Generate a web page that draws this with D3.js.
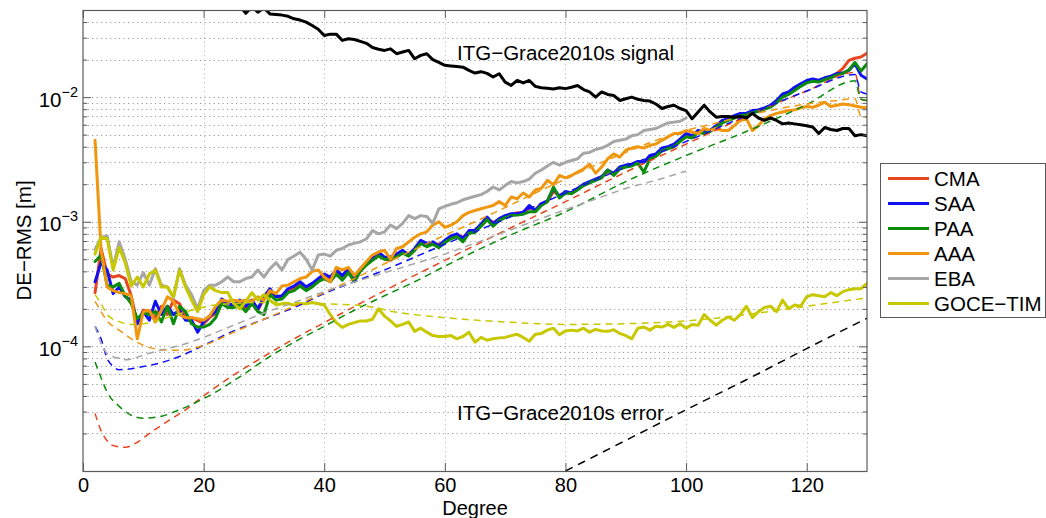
<!DOCTYPE html>
<html>
<head>
<meta charset="utf-8">
<script src="https://cdn.jsdelivr.net/npm/d3@7"></script>
<style>
  body { margin: 0; background: #fff; }
  svg text { font-family: "Liberation Sans", Arial, Helvetica, sans-serif; fill: #000; }
</style>
</head>
<body>
<svg id="chart" width="1046" height="518"></svg>
<script>
// Spherical harmonic degrees of the per-degree curves
const degrees = d3.range(2, 131);
const ebaDegrees = d3.range(2, 101);
const signalDegrees = d3.range(25, 131);

// Degree-error RMS [m] per degree (solid curves)
const cma = [
  2.7e-4, 6.1e-4, 3.8e-4, 3.6e-4, 3.7e-4, 3.5e-4, 2.55e-4, 1.52e-4, 1.95e-4,
  1.9e-4, 1.7e-4, 2.1e-4, 1.8e-4, 2.35e-4, 2.2e-4, 1.7e-4, 1.7e-4, 1.62e-4, 1.52e-4,
  1.7e-4, 1.85e-4, 2.3e-4, 2.2e-4, 2.1e-4, 2.2e-4, 2.0e-4, 2.3e-4, 1.95e-4, 2.4e-4,
  2.75e-4, 2.55e-4, 2.45e-4, 2.8e-4, 2.95e-4, 3.2e-4, 2.9e-4, 3.1e-4, 3.4e-4, 3.7e-4,
  3.5e-4, 4.0e-4, 3.6e-4, 4.1e-4, 3.7e-4, 4.1e-4, 4.6e-4, 5.0e-4, 5.6e-4, 5.0e-4,
  4.9e-4, 5.4e-4, 5.8e-4, 5.5e-4, 6.0e-4, 6.9e-4, 6.6e-4, 6.7e-4, 6.6e-4, 7.0e-4,
  7.5e-4, 7.9e-4, 7.5e-4, 8.3e-4, 8.6e-4, 9.3e-4, 1.05e-3, 9.9e-4, 1.04e-3, 1.1e-3,
  1.14e-3, 1.18e-3, 1.17e-3, 1.3e-3, 1.25e-3, 1.38e-3, 1.45e-3, 1.75e-3, 1.62e-3, 1.72e-3,
  1.72e-3, 1.82e-3, 1.98e-3, 2.05e-3, 2.2e-3, 2.3e-3, 2.5e-3, 2.45e-3, 2.7e-3, 2.8e-3,
  2.9e-3, 3.0e-3, 3.0e-3, 3.3e-3, 3.45e-3, 3.8e-3, 3.9e-3, 4.1e-3, 4.5e-3, 5.0e-3,
  4.9e-3, 5.3e-3, 5.3e-3, 5.4e-3, 5.8e-3, 6.3e-3, 6.6e-3, 7.0e-3, 7.2e-3, 7.4e-3,
  7.6e-3, 7.9e-3, 8.1e-3, 8.5e-3, 9.2e-3, 1.02e-2, 1.08e-2, 1.16e-2, 1.25e-2, 1.32e-2,
  1.38e-2, 1.36e-2, 1.42e-2, 1.46e-2, 1.55e-2, 1.7e-2, 1.97e-2, 2.05e-2, 2.1e-2, 2.25e-2
];
const saa = [
  3.3e-4, 4.7e-4, 4.1e-4, 2.65e-4, 3.0e-4, 2.5e-4, 2.35e-4, 1.52e-4, 1.9e-4,
  1.62e-4, 2.3e-4, 1.8e-4, 2.1e-4, 1.8e-4, 1.95e-4, 1.62e-4, 1.62e-4, 1.3e-4, 1.57e-4,
  1.75e-4, 1.9e-4, 2.4e-4, 2.2e-4, 2.15e-4, 2.35e-4, 2.1e-4, 2.35e-4, 2.0e-4, 2.5e-4,
  2.9e-4, 2.5e-4, 2.55e-4, 2.9e-4, 3.05e-4, 3.3e-4, 3.0e-4, 3.2e-4, 3.5e-4, 3.8e-4,
  3.6e-4, 4.1e-4, 3.7e-4, 4.2e-4, 3.6e-4, 4.2e-4, 4.7e-4, 5.2e-4, 5.7e-4, 5.2e-4,
  5.2e-4, 5.5e-4, 5.9e-4, 5.4e-4, 6.1e-4, 7.1e-4, 6.7e-4, 6.9e-4, 6.4e-4, 7.1e-4,
  7.7e-4, 8.0e-4, 7.3e-4, 8.5e-4, 8.5e-4, 9.6e-4, 1.09e-3, 9.6e-4, 1.06e-3, 1.12e-3,
  1.16e-3, 1.16e-3, 1.19e-3, 1.35e-3, 1.23e-3, 1.4e-3, 1.47e-3, 1.85e-3, 1.6e-3, 1.75e-3,
  1.7e-3, 1.85e-3, 2.0e-3, 2.1e-3, 2.2e-3, 2.3e-3, 2.6e-3, 2.45e-3, 2.75e-3, 2.85e-3,
  2.9e-3, 3.05e-3, 3.0e-3, 3.4e-3, 3.5e-3, 3.9e-3, 4.0e-3, 4.2e-3, 4.6e-3, 5.1e-3,
  4.9e-3, 5.4e-3, 5.25e-3, 5.4e-3, 5.9e-3, 6.5e-3, 6.7e-3, 7.1e-3, 7.4e-3, 7.4e-3,
  7.8e-3, 7.9e-3, 8.2e-3, 8.6e-3, 9.4e-3, 1.06e-2, 1.1e-2, 1.2e-2, 1.28e-2, 1.36e-2,
  1.4e-2, 1.36e-2, 1.43e-2, 1.47e-2, 1.54e-2, 1.56e-2, 1.64e-2, 1.85e-2, 1.5e-2, 1.4e-2
];
const paa = [
  4.8e-4, 5.4e-4, 3.1e-4, 3.0e-4, 3.2e-4, 2.55e-4, 2.2e-4, 1.67e-4, 1.85e-4,
  1.8e-4, 1.9e-4, 1.57e-4, 2.1e-4, 1.52e-4, 2.1e-4, 1.9e-4, 1.52e-4, 1.43e-4, 1.43e-4,
  1.5e-4, 1.7e-4, 2.2e-4, 2.05e-4, 2.05e-4, 2.15e-4, 1.9e-4, 2.2e-4, 1.9e-4, 1.8e-4,
  2.6e-4, 2.35e-4, 2.4e-4, 2.7e-4, 2.8e-4, 3.05e-4, 2.8e-4, 3.0e-4, 3.3e-4, 3.5e-4,
  3.3e-4, 3.8e-4, 3.4e-4, 3.9e-4, 3.3e-4, 4.0e-4, 4.5e-4, 4.9e-4, 5.3e-4, 5.0e-4,
  5.0e-4, 5.2e-4, 5.6e-4, 5.3e-4, 5.9e-4, 6.7e-4, 6.3e-4, 6.6e-4, 6.2e-4, 6.8e-4,
  7.3e-4, 7.6e-4, 6.9e-4, 8.1e-4, 8.2e-4, 9.2e-4, 1.04e-3, 9.2e-4, 1.02e-3, 1.08e-3,
  1.12e-3, 1.13e-3, 1.15e-3, 1.2e-3, 1.2e-3, 1.35e-3, 1.45e-3, 1.9e-3, 1.55e-3, 1.7e-3,
  1.68e-3, 1.8e-3, 1.95e-3, 2.05e-3, 2.15e-3, 2.25e-3, 2.6e-3, 2.35e-3, 2.65e-3, 2.75e-3,
  2.8e-3, 2.95e-3, 2.5e-3, 3.2e-3, 3.35e-3, 3.7e-3, 3.85e-3, 4.0e-3, 4.4e-3, 4.8e-3,
  4.7e-3, 5.2e-3, 5.1e-3, 5.3e-3, 5.7e-3, 6.2e-3, 6.5e-3, 6.8e-3, 7.1e-3, 7.2e-3,
  7.5e-3, 7.7e-3, 8.0e-3, 8.3e-3, 9.0e-3, 1.0e-2, 1.05e-2, 1.13e-2, 1.22e-2, 1.3e-2,
  1.34e-2, 1.32e-2, 1.38e-2, 1.43e-2, 1.5e-2, 1.55e-2, 1.65e-2, 1.9e-2, 1.62e-2, 1.85e-2
];
const aaa = [
  4.5e-3, 5.9e-4, 3.0e-4, 2.8e-4, 2.7e-4, 2.65e-4, 2.55e-4, 1.15e-4, 1.9e-4,
  1.95e-4, 1.57e-4, 1.95e-4, 2.5e-4, 2.3e-4, 1.8e-4, 1.7e-4, 1.7e-4, 1.67e-4, 1.62e-4,
  1.75e-4, 2.1e-4, 2.35e-4, 2.3e-4, 2.35e-4, 2.3e-4, 2.35e-4, 2.3e-4, 2.5e-4, 2.35e-4,
  2.8e-4, 2.65e-4, 3.05e-4, 3.1e-4, 3.3e-4, 3.5e-4, 3.6e-4, 4.0e-4, 4.1e-4, 3.6e-4,
  3.3e-4, 4.3e-4, 4.1e-4, 4.3e-4, 3.7e-4, 4.2e-4, 4.8e-4, 5.4e-4, 5.7e-4, 5.9e-4,
  5.0e-4, 6.1e-4, 6.3e-4, 6.9e-4, 7.5e-4, 8.0e-4, 8.3e-4, 9.4e-4, 1.0e-3, 9.0e-4,
  9.4e-4, 1.0e-3, 1.12e-3, 1.19e-3, 1.23e-3, 1.27e-3, 1.31e-3, 1.35e-3, 1.45e-3, 1.35e-3,
  1.58e-3, 1.53e-3, 1.7e-3, 1.58e-3, 1.8e-3, 1.85e-3, 2.15e-3, 1.98e-3, 2.35e-3, 2.25e-3,
  2.35e-3, 2.5e-3, 2.65e-3, 2.9e-3, 2.45e-3, 2.75e-3, 3.2e-3, 3.5e-3, 3.3e-3, 3.75e-3,
  3.9e-3, 4.0e-3, 3.9e-3, 4.1e-3, 4.2e-3, 4.5e-3, 4.8e-3, 5.1e-3, 5.1e-3, 5.4e-3,
  5.25e-3, 5.1e-3, 5.6e-3, 5.4e-3, 5.6e-3, 5.4e-3, 5.4e-3, 5.9e-3, 6.5e-3, 6.7e-3,
  5.4e-3, 5.9e-3, 6.7e-3, 7.1e-3, 7.4e-3, 7.6e-3, 7.8e-3, 7.9e-3, 8.2e-3, 8.4e-3,
  8.3e-3, 8.6e-3, 9.1e-3, 8.4e-3, 8.6e-3, 8.8e-3, 8.7e-3, 8.5e-3, 8.3e-3, 8.2e-3
];
const eba = [
  6.0e-4, 7.5e-4, 7.7e-4, 4.3e-4, 6.9e-4, 5.0e-4, 3.3e-4, 3.1e-4, 3.9e-4,
  3.1e-4, 4.2e-4, 3.1e-4, 3.0e-4, 2.45e-4, 4.2e-4, 3.1e-4, 2.6e-4, 2.0e-4, 2.8e-4,
  3.1e-4, 3.1e-4, 3.3e-4, 3.6e-4, 3.3e-4, 3.3e-4, 3.5e-4, 3.6e-4, 4.1e-4, 3.6e-4,
  4.2e-4, 4.7e-4, 4.1e-4, 5.0e-4, 5.3e-4, 5.7e-4, 5.0e-4, 4.1e-4, 5.4e-4, 5.5e-4,
  5.3e-4, 5.9e-4, 6.1e-4, 6.5e-4, 6.7e-4, 6.9e-4, 7.3e-4, 8.5e-4, 8.0e-4, 8.3e-4,
  9.4e-4, 8.8e-4, 9.7e-4, 1.12e-3, 1.06e-3, 1.12e-3, 1.1e-3, 9.7e-4, 1.27e-3, 1.33e-3,
  1.38e-3, 1.42e-3, 1.5e-3, 1.55e-3, 1.6e-3, 1.65e-3, 1.75e-3, 1.9e-3, 1.8e-3, 1.95e-3,
  2.1e-3, 2.05e-3, 2.1e-3, 2.2e-3, 2.45e-3, 2.6e-3, 2.8e-3, 3.0e-3, 2.85e-3, 3.0e-3,
  3.1e-3, 3.2e-3, 3.55e-3, 3.6e-3, 3.8e-3, 3.9e-3, 4.1e-3, 4.4e-3, 4.5e-3, 4.6e-3,
  4.9e-3, 5.0e-3, 5.4e-3, 5.5e-3, 5.6e-3, 5.9e-3, 6.2e-3, 6.3e-3, 6.4e-3, 6.8e-3
];
const goceTim = [
  5.5e-4, 7.5e-4, 7.3e-4, 4.1e-4, 6.2e-4, 4.7e-4, 3.05e-4, 3.6e-4, 3.0e-4,
  3.8e-4, 4.1e-4, 3.0e-4, 3.0e-4, 2.5e-4, 4.1e-4, 3.0e-4, 2.35e-4, 1.9e-4, 2.6e-4,
  3.0e-4, 2.8e-4, 2.7e-4, 2.7e-4, 2.2e-4, 2.0e-4, 2.3e-4, 2.7e-4, 2.35e-4, 2.6e-4,
  2.35e-4, 2.15e-4, 2.2e-4, 2.2e-4, 2.15e-4, 2.2e-4, 2.2e-4, 2.25e-4, 2.2e-4, 2.15e-4,
  1.8e-4, 1.55e-4, 1.42e-4, 1.5e-4, 1.55e-4, 1.6e-4, 1.6e-4, 1.65e-4, 2.0e-4, 1.75e-4,
  1.6e-4, 1.45e-4, 1.5e-4, 1.57e-4, 1.32e-4, 1.4e-4, 1.3e-4, 1.22e-4, 1.2e-4, 1.2e-4,
  1.22e-4, 1.15e-4, 1.2e-4, 1.3e-4, 1.08e-4, 1.18e-4, 1.12e-4, 1.15e-4, 1.17e-4, 1.18e-4,
  1.22e-4, 1.25e-4, 1.18e-4, 1.1e-4, 1.25e-4, 1.27e-4, 1.35e-4, 1.4e-4, 1.24e-4, 1.33e-4,
  1.35e-4, 1.33e-4, 1.4e-4, 1.3e-4, 1.37e-4, 1.33e-4, 1.32e-4, 1.36e-4, 1.27e-4, 1.22e-4,
  1.15e-4, 1.4e-4, 1.43e-4, 1.35e-4, 1.45e-4, 1.43e-4, 1.5e-4, 1.42e-4, 1.52e-4, 1.4e-4,
  1.5e-4, 1.48e-4, 1.8e-4, 1.62e-4, 1.48e-4, 1.62e-4, 1.72e-4, 1.62e-4, 1.8e-4, 2.1e-4,
  1.7e-4, 1.9e-4, 2.05e-4, 2.1e-4, 1.9e-4, 2.35e-4, 2.0e-4, 2.15e-4, 2.1e-4, 2.5e-4,
  2.6e-4, 2.55e-4, 2.5e-4, 2.7e-4, 2.55e-4, 2.75e-4, 2.85e-4, 2.9e-4, 2.9e-4, 3.2e-4
];

// ITG-Grace2010s signal degree RMS [m]
const signal = [
  6.2e-2, 5.4e-2, 4.7e-2, 5.3e-2, 4.8e-2, 5.2e-2,
  4.65e-2, 4.6e-2, 4.55e-2, 4.45e-2, 4.25e-2, 4.15e-2, 4.0e-2, 3.75e-2, 3.5e-2, 3.12e-2,
  3.2e-2, 3.2e-2, 2.85e-2, 2.94e-2, 2.9e-2, 2.8e-2, 2.7e-2, 2.5e-2, 2.42e-2, 2.37e-2,
  2.44e-2, 2.23e-2, 2.3e-2, 2.37e-2, 2.03e-2, 2.16e-2, 2.23e-2, 2.0e-2, 1.9e-2, 1.8e-2,
  1.78e-2, 1.76e-2, 1.74e-2, 1.64e-2, 1.56e-2, 1.6e-2, 1.55e-2, 1.45e-2, 1.54e-2, 1.32e-2,
  1.24e-2, 1.36e-2, 1.3e-2, 1.36e-2, 1.22e-2, 1.19e-2, 1.18e-2, 1.16e-2, 1.19e-2, 1.17e-2,
  1.2e-2, 1.24e-2, 1.15e-2, 1.1e-2, 1.0e-2, 1.1e-2, 1.05e-2, 1.03e-2, 9.4e-3, 9.7e-3,
  1.0e-2, 9.6e-3, 9.4e-3, 9.3e-3, 8.8e-3, 8.1e-3, 8.4e-3, 8.6e-3, 8.1e-3, 7.8e-3,
  6.7e-3, 7.6e-3, 8.6e-3, 7.6e-3, 6.9e-3, 7.0e-3, 7.0e-3, 6.9e-3, 7.0e-3, 6.8e-3,
  7.4e-3, 6.8e-3, 6.5e-3, 6.8e-3, 6.5e-3, 6.1e-3, 6.2e-3, 6.1e-3, 6.0e-3, 5.9e-3,
  5.75e-3, 5.1e-3, 5.7e-3, 5.5e-3, 5.4e-3, 5.6e-3, 5.6e-3, 4.9e-3, 5.0e-3, 4.9e-3
];

// Smooth error estimates (dashed), sampled at selected degrees
const cmaFitDeg = [2, 3, 4, 5, 7, 9, 11, 14, 17, 20, 25, 30, 35, 40, 50, 60, 70, 80, 90, 100, 110, 120, 128, 129, 130];
const cmaFit = [2.9e-5, 2.1e-5, 1.75e-5, 1.6e-5, 1.55e-5, 1.7e-5, 2.0e-5, 2.5e-5, 3.1e-5, 4.0e-5, 5.9e-5, 8.3e-5, 1.15e-4, 1.55e-4, 2.8e-4, 4.9e-4, 8.5e-4, 1.45e-3, 2.5e-3, 4.2e-3, 7.0e-3, 1.12e-2, 1.58e-2, 9.6e-3, 9.4e-3];
const saaFitDeg = [2, 3, 4, 5, 6, 8, 10, 13, 16, 20, 25, 30, 35, 40, 50, 60, 70, 80, 90, 100, 110, 120, 128, 129, 130];
const saaFit = [1.45e-4, 1.15e-4, 8.0e-5, 6.9e-5, 6.5e-5, 6.6e-5, 6.9e-5, 7.4e-5, 8.3e-5, 1.02e-4, 1.33e-4, 1.65e-4, 2.05e-4, 2.65e-4, 4.1e-4, 6.6e-4, 1.05e-3, 1.7e-3, 2.75e-3, 4.4e-3, 7.1e-3, 1.12e-2, 1.52e-2, 1.1e-2, 1.06e-2];
const paaFitDeg = [2, 3, 4, 6, 8, 10, 13, 16, 19, 22, 26, 31, 35, 40, 45, 50, 55, 60, 70, 80, 90, 100, 110, 120, 128, 129, 130];
const paaFit = [7.5e-5, 5.6e-5, 4.3e-5, 3.3e-5, 2.8e-5, 2.65e-5, 2.75e-5, 3.1e-5, 3.6e-5, 4.3e-5, 5.7e-5, 8.3e-5, 1.08e-4, 1.45e-4, 1.95e-4, 2.55e-4, 3.3e-4, 4.4e-4, 7.5e-4, 1.2e-3, 2.1e-3, 3.4e-3, 5.3e-3, 8.7e-3, 1.35e-2, 9.6e-3, 9.4e-3];
const aaaFitDeg = [2, 3, 4, 6, 8, 10, 13, 16, 20, 25, 30, 35, 40, 45, 50, 55, 60, 65, 70, 75, 80, 85, 90, 95, 100, 105, 110, 115, 120, 125, 128, 129, 130];
const aaaFit = [2.3e-4, 1.9e-4, 1.6e-4, 1.35e-4, 1.15e-4, 1.02e-4, 9.4e-5, 9.3e-5, 1.02e-4, 1.3e-4, 1.65e-4, 2.1e-4, 2.7e-4, 3.5e-4, 4.6e-4, 6.0e-4, 7.8e-4, 1.0e-3, 1.3e-3, 1.7e-3, 2.2e-3, 2.85e-3, 3.6e-3, 4.5e-3, 5.4e-3, 6.2e-3, 7.1e-3, 8.0e-3, 8.8e-3, 9.4e-3, 9.7e-3, 7.0e-3, 6.9e-3];
const ebaFitDeg = [2, 3, 4, 6, 7, 9, 11, 14, 17, 20, 25, 30, 35, 40, 50, 60, 70, 80, 85, 90, 95, 100];
const ebaFit = [1.45e-4, 1.05e-4, 8.8e-5, 8.0e-5, 7.8e-5, 8.2e-5, 8.8e-5, 9.6e-5, 1.05e-4, 1.18e-4, 1.48e-4, 1.85e-4, 2.25e-4, 2.75e-4, 3.9e-4, 5.5e-4, 8.3e-4, 1.25e-3, 1.52e-3, 1.85e-3, 2.15e-3, 2.55e-3];
const goceFitDeg = [2, 3, 4, 6, 8, 10, 14, 18, 22, 30, 40, 47, 52, 60, 70, 80, 90, 100, 110, 120, 130];
const goceFit = [2.6e-4, 2.2e-4, 1.8e-4, 1.58e-4, 1.5e-4, 1.52e-4, 1.7e-4, 1.95e-4, 2.15e-4, 2.25e-4, 2.2e-4, 2.1e-4, 1.88e-4, 1.7e-4, 1.57e-4, 1.5e-4, 1.52e-4, 1.6e-4, 1.8e-4, 2.1e-4, 2.45e-4];
const errorDeg = [80, 90, 100, 110, 120, 130];
const signalError = [1.0e-5, 1.76e-5, 3.1e-5, 5.4e-5, 9.6e-5, 1.68e-4];

// Labels
const seriesNames = ["CMA", "SAA", "PAA", "AAA", "EBA", "GOCE\u2212TIM"];
const seriesColors = ["#e8461e", "#1010f5", "#0c8c0c", "#f0960f", "#a6a6a6", "#c8c800"];
const xTicks = [0, 20, 40, 60, 80, 100, 120];
const yLabelTicks = [1e-4, 1e-3, 1e-2];
const xTitle = "Degree";
const yTitle = "DE\u2212RMS [m]";
const signalLabel = "ITG\u2212Grace2010s signal";
const errorLabel = "ITG\u2212Grace2010s error";

// ---------------------------------------------------------------------------
const FONT = '"Liberation Sans", Arial, Helvetica, sans-serif';
const svg = d3.select("#chart");
const plot = { left: 83, right: 867, top: 10, bottom: 471 };

const x = d3.scaleLinear().domain([0, 130]).range([plot.left, plot.right]);
const y = d3.scaleLog().domain([1e-5, 5e-2]).range([plot.bottom, plot.top]);

// every 1..9 x 10^k value inside the axis range
const logTicks = [];
for (let e = -5; e <= -2; e++) {
  for (let m = 1; m <= 9; m++) {
    const v = +(m * Math.pow(10, e)).toPrecision(3);
    if (v > 1e-5 * 1.001 && v < 5e-2 * 0.999) logTicks.push(v);
  }
}
const majorLog = logTicks.filter(v => Math.abs(Math.log10(v) - Math.round(Math.log10(v))) < 1e-9);
const minorLog = logTicks.filter(v => !majorLog.includes(v));

svg.append("defs").append("clipPath").attr("id", "plot-clip")
  .append("rect")
  .attr("x", plot.left).attr("y", plot.top)
  .attr("width", plot.right - plot.left).attr("height", plot.bottom - plot.top);

// dotted grid
const grid = svg.append("g")
  .attr("stroke", "#8c8c8c").attr("stroke-width", 0.9)
  .attr("stroke-dasharray", "1.2,3.3");
grid.selectAll("line.h").data(logTicks).join("line").attr("class", "h")
  .attr("x1", plot.left).attr("x2", plot.right)
  .attr("y1", d => Math.round(y(d)) + 0.5).attr("y2", d => Math.round(y(d)) + 0.5);
grid.selectAll("line.v").data(xTicks.filter(d => d > 0)).join("line").attr("class", "v")
  .attr("stroke", "#b4b4b4")
  .attr("x1", d => Math.round(x(d)) + 0.5).attr("x2", d => Math.round(x(d)) + 0.5)
  .attr("y1", plot.top).attr("y2", plot.bottom);

// curves
const lines = svg.append("g").attr("clip-path", "url(#plot-clip)")
  .attr("fill", "none").attr("stroke-linejoin", "round").attr("stroke-linecap", "round");

function drawSolid(degs, vals, color, width) {
  const gen = d3.line().x((d, i) => x(degs[i])).y(d => y(d));
  lines.append("path").datum(vals)
    .attr("d", gen).attr("stroke", color).attr("stroke-width", width);
}
function drawDashed(degs, vals, color, width, dash) {
  const gen = d3.line().x((d, i) => x(degs[i])).y(d => y(d)).curve(d3.curveMonotoneX);
  lines.append("path").datum(vals)
    .attr("d", gen).attr("stroke", color).attr("stroke-width", width)
    .attr("stroke-linecap", "butt").attr("stroke-dasharray", dash);
}

const solidSeries = [cma, saa, paa, aaa, eba, goceTim];
const solidDegrees = [degrees, degrees, degrees, degrees, ebaDegrees, degrees];
solidSeries.forEach((vals, i) => drawSolid(solidDegrees[i], vals, seriesColors[i], 3));

const fitSeries = [cmaFit, saaFit, paaFit, aaaFit, ebaFit, goceFit];
const fitDegrees = [cmaFitDeg, saaFitDeg, paaFitDeg, aaaFitDeg, ebaFitDeg, goceFitDeg];
fitSeries.forEach((vals, i) => drawDashed(fitDegrees[i], vals, seriesColors[i], 1.5, "7,5"));

drawSolid(signalDegrees, signal, "#000", 3);
drawDashed(errorDeg, signalError, "#000", 1.5, "8,6");

// axes: ticks point inward on all four sides
const axisColor = "#5a5a5a";
function styleAxis(g) {
  g.select(".domain").remove();
  g.selectAll("line").attr("stroke", axisColor);
  g.attr("font-family", FONT).attr("font-size", 20);
}
svg.append("g").attr("transform", `translate(${plot.left},0)`)
  .call(d3.axisLeft(y).tickValues(majorLog).tickSize(-8).tickFormat("")).call(styleAxis);
svg.append("g").attr("transform", `translate(${plot.left},0)`)
  .call(d3.axisLeft(y).tickValues(minorLog).tickSize(-4).tickFormat("")).call(styleAxis);
svg.append("g").attr("transform", `translate(${plot.right},0)`)
  .call(d3.axisRight(y).tickValues(majorLog).tickSize(-8).tickFormat("")).call(styleAxis);
svg.append("g").attr("transform", `translate(${plot.right},0)`)
  .call(d3.axisRight(y).tickValues(minorLog).tickSize(-4).tickFormat("")).call(styleAxis);
svg.append("g").attr("transform", `translate(0,${plot.bottom})`)
  .call(d3.axisBottom(x).tickValues(xTicks).tickSize(-8).tickPadding(7).tickFormat(d3.format("d")))
  .call(styleAxis)
  .call(g => g.selectAll("text").attr("fill", "#000"));
svg.append("g").attr("transform", `translate(0,${plot.top})`)
  .call(d3.axisTop(x).tickValues(xTicks).tickSize(-8).tickFormat("")).call(styleAxis);

// plot frame
svg.append("rect")
  .attr("x", plot.left).attr("y", plot.top + 0.5)
  .attr("width", plot.right - plot.left).attr("height", plot.bottom - plot.top)
  .attr("fill", "none").attr("stroke", axisColor).attr("stroke-width", 1.2);

// power-of-ten labels on the y axis
const yLab = svg.append("g").attr("font-family", FONT);
yLabelTicks.forEach(v => {
  const t = yLab.append("text")
    .attr("x", plot.left - 5).attr("y", y(v) + 9.5)
    .attr("text-anchor", "end").attr("font-size", 20.5);
  t.append("tspan").text("10");
  t.append("tspan").attr("dy", -10).attr("font-size", 14.5)
    .text("\u2212" + Math.round(-Math.log10(v)));
});

// axis titles
svg.append("text")
  .attr("x", (plot.left + plot.right) / 2).attr("y", 515)
  .attr("text-anchor", "middle").attr("font-size", 20).text(xTitle);
svg.append("text")
  .attr("transform", `translate(31,${(plot.top + plot.bottom) / 2}) rotate(-90)`)
  .attr("text-anchor", "middle").attr("font-size", 20.5).text(yTitle);

// curve annotations
svg.append("text").attr("x", 457).attr("y", 60).attr("font-size", 20.5).text(signalLabel);
svg.append("text").attr("x", 457).attr("y", 420).attr("font-size", 20.5).text(errorLabel);

// legend
const legend = svg.append("g").attr("transform", "translate(880.5,163.5)");
legend.append("rect").attr("width", 165).attr("height", 154)
  .attr("fill", "#fff").attr("stroke", axisColor).attr("stroke-width", 1);
seriesNames.forEach((name, i) => {
  const cy = 15 + i * 25;
  legend.append("line")
    .attr("x1", 7.5).attr("x2", 48.5).attr("y1", cy).attr("y2", cy)
    .attr("stroke", seriesColors[i]).attr("stroke-width", 3);
  legend.append("text").attr("x", 53.5).attr("y", cy + 7.5)
    .attr("font-size", 20.5).text(name);
});
</script>
</body>
</html>
